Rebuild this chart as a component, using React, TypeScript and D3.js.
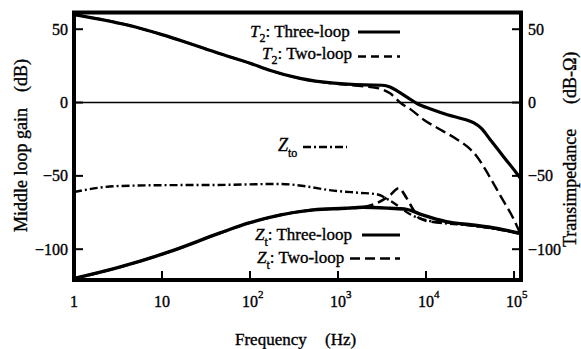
import React from 'react';
import * as d3 from 'd3';

const W = 581;
const H = 349;
const FONT = '"Liberation Serif", "Times New Roman", Times, serif';

// Loop gain T2, three-loop design (Hz, dB)
const t2ThreeFreq = [1, 5, 10, 19, 44, 100, 160, 370, 900, 2000, 3200, 3900, 4800, 6200, 8000, 11500, 17500, 27000, 35000, 42000, 54000, 76000, 107000, 119000];
const t2ThreeDb = [60, 51.5, 46.3, 41, 33.6, 26.8, 22.4, 16.5, 13.2, 12.0, 11.8, 10.6, 7.6, 3.4, -0.8, -4.6, -8.3, -11.4, -13.9, -17.3, -25.5, -36.9, -48.2, -51.8];

// Loop gain T2, two-loop design (Hz, dB)
const t2TwoFreq = [1, 5, 10, 19, 44, 100, 160, 370, 900, 2000, 2900, 3900, 5200, 6800, 9500, 14800, 23000, 29500, 38000, 50000, 71000, 100000, 116000];
const t2TwoDb = [60, 51.5, 46.3, 41, 33.6, 26.8, 22.4, 16.5, 12.9, 11.0, 9.7, 6.3, -0.5, -5.0, -11.9, -18.7, -25.5, -30.1, -36.9, -48.2, -64.2, -80.0, -88.5];

// Open-loop transimpedance Zto (Hz, dB-Ω)
const ztoFreq = [1, 3, 12.5, 40, 220, 450, 800, 1700, 2750, 3900, 6800, 12000, 34000, 62000, 116000];
const ztoDb = [-61, -57, -56.3, -56.2, -55.5, -57.3, -59.7, -61.5, -62.5, -66.9, -76.6, -81.2, -84.0, -86.2, -89.3];

// Transimpedance Zt, three-loop design (Hz, dB-Ω)
const ztThreeFreq = [1, 3.06, 12.2, 45, 95, 224, 525, 1230, 1900, 3900, 6000, 9100, 17000, 34000, 62000, 116000];
const ztThreeDb = [-120, -112.8, -101.7, -89.1, -82.3, -76.6, -73.2, -72.1, -71.4, -72.1, -72.8, -76.6, -81.2, -83.5, -85.7, -89.1];

// Transimpedance Zt, two-loop design (Hz, dB-Ω)
const ztTwoFreq = [1, 3.06, 12.2, 45, 95, 224, 525, 1230, 1900, 2750, 3900, 4900, 6000, 7200, 8300, 12000, 17000, 34000, 62000, 116000];
const ztTwoDb = [-120, -112.8, -101.7, -89.1, -82.3, -76.6, -73.2, -72.1, -71.4, -68.6, -63.2, -58.4, -65, -73.2, -78.7, -81.4, -81.8, -83.8, -86, -89.1];

const yTicks = [50, 0, -50, -100];
const xTicks = [1, 10, 100, 1000, 10000, 100000];
const xTickBase = ['1', '10', '10', '10', '10', '10'];
const xTickExp = ['', '', '2', '3', '4', '5'];

const LEFT = 74;
const RIGHT = 521;
const TOP = 12.5;
const BOTTOM = 280;

const x = d3.scaleLog().domain([1, 120000]).range([LEFT, RIGHT]);
const y = d3.scaleLinear().domain([-121, 61.4]).range([BOTTOM, TOP]);

const zip = (f: number[], v: number[]): [number, number][] => f.map((d, i) => [d, v[i]]);

const line = d3
  .line<[number, number]>()
  .x((d) => x(d[0]))
  .y((d) => y(d[1]))
  .curve(d3.curveMonotoneX);

const fmt = (v: number) => (v < 0 ? '\u2212' + Math.abs(v) : String(v));

// slight outline thickens the serif glyphs
const ink = { fill: '#000', stroke: '#000', strokeWidth: 0.35 };

export default function App() {
  const series = [
    { data: zip(ztoFreq, ztoDb), width: 2.4, dash: '8,3,2,3' },
    { data: zip(ztTwoFreq, ztTwoDb), width: 2.6, dash: '10,5' },
    { data: zip(ztThreeFreq, ztThreeDb), width: 3.4, dash: undefined },
    { data: zip(t2TwoFreq, t2TwoDb), width: 2.4, dash: '11,5' },
    { data: zip(t2ThreeFreq, t2ThreeDb), width: 3.2, dash: undefined },
  ];

  return (
    <svg
      width={W}
      height={H}
      viewBox={`0 0 ${W} ${H}`}
      style={{ position: 'absolute', left: 0, top: 0, background: '#fff' }}
      fontFamily={FONT}
    >
      <defs>
        <clipPath id="plot">
          <rect x={LEFT} y={TOP} width={RIGHT - LEFT} height={BOTTOM - TOP} />
        </clipPath>
      </defs>
      <rect width={W} height={H} fill="#fff" />

      {/* 0 dB reference */}
      <line x1={LEFT} x2={RIGHT} y1={y(0)} y2={y(0)} stroke="#000" strokeWidth={1.6} />

      <g clipPath="url(#plot)">
        {series.map((s, i) => (
          <path
            key={i}
            d={line(s.data) || ''}
            fill="none"
            stroke="#000"
            strokeWidth={s.width}
            strokeDasharray={s.dash}
            strokeLinejoin="round"
          />
        ))}
      </g>

      {/* frame */}
      <rect x={LEFT} y={TOP} width={RIGHT - LEFT} height={BOTTOM - TOP} fill="none" stroke="#000" strokeWidth={4} />

      {/* y ticks both sides, pointing inward */}
      {yTicks.map((v) => (
        <g key={v}>
          <line x1={LEFT} x2={LEFT + 9} y1={y(v)} y2={y(v)} stroke="#000" strokeWidth={2} />
          <line x1={RIGHT - 9} x2={RIGHT} y1={y(v)} y2={y(v)} stroke="#000" strokeWidth={2} />
          <text x={68} y={y(v) + 5.5} textAnchor="end" fontSize={16} {...ink}>
            {fmt(v)}
          </text>
          <text x={528} y={y(v) + 5.5} textAnchor="start" fontSize={16} {...ink}>
            {fmt(v)}
          </text>
        </g>
      ))}

      {/* x ticks */}
      {xTicks.map((v, i) => (
        <g key={v}>
          {i > 0 && (
            <line x1={x(v)} x2={x(v)} y1={BOTTOM} y2={BOTTOM - 9} stroke="#000" strokeWidth={2} />
          )}
          <text x={x(v)} y={307} textAnchor="middle" fontSize={16} {...ink}>
            {xTickBase[i]}
          </text>
          {xTickExp[i] && (
            <text x={x(v) + 8} y={298} textAnchor="start" fontSize={11} {...ink}>
              {xTickExp[i]}
            </text>
          )}
        </g>
      ))}

      {/* axis titles */}
      <text x={235} y={345} fontSize={17} {...ink}>Frequency</text>
      <text x={325} y={345} fontSize={17} {...ink}>(Hz)</text>
      <text transform="translate(27,232) rotate(-90)" fontSize={18} {...ink}>Middle loop gain</text>
      <text transform="translate(27,92) rotate(-90)" fontSize={18} {...ink}>(dB)</text>
      <text transform="translate(576,247) rotate(-90)" fontSize={18} {...ink}>Transimpedance</text>
      <text transform="translate(576,104) rotate(-90)" fontSize={18} {...ink}>(dB-Ω)</text>

      {/* legend */}
      <text x={250} y={37} fontSize={17} {...ink}>
        <tspan fontStyle="italic">T</tspan>
        <tspan dy={5} fontSize={12}>2</tspan>
        <tspan dy={-5}>: Three-loop</tspan>
      </text>
      <line x1={358} x2={400} y1={32} y2={32} stroke="#000" strokeWidth={3} />

      <text x={262} y={59} fontSize={17} {...ink}>
        <tspan fontStyle="italic">T</tspan>
        <tspan dy={5} fontSize={12}>2</tspan>
        <tspan dy={-5}>: Two-loop</tspan>
      </text>
      <line x1={358} x2={400} y1={56.5} y2={56.5} stroke="#000" strokeWidth={2.4} strokeDasharray="8,5" />

      <text x={278} y={151} fontSize={18} {...ink}>
        <tspan fontStyle="italic">Z</tspan>
        <tspan dy={6} fontSize={12}>to</tspan>
      </text>
      <line x1={303} x2={347} y1={147} y2={147} stroke="#000" strokeWidth={2.4} strokeDasharray="8,3,2,3" />

      <text x={255} y={240} fontSize={17} {...ink}>
        <tspan fontStyle="italic">Z</tspan>
        <tspan dy={6} fontSize={12}>t</tspan>
        <tspan dy={-6}>: Three-loop</tspan>
      </text>
      <line x1={362} x2={400} y1={235} y2={235} stroke="#000" strokeWidth={3} />

      <text x={257} y={263} fontSize={17} {...ink}>
        <tspan fontStyle="italic">Z</tspan>
        <tspan dy={6} fontSize={12}>t</tspan>
        <tspan dy={-6}>: Two-loop</tspan>
      </text>
      <line x1={350} x2={400} y1={258.5} y2={258.5} stroke="#000" strokeWidth={2.6} strokeDasharray="10,5" />
    </svg>
  );
}
